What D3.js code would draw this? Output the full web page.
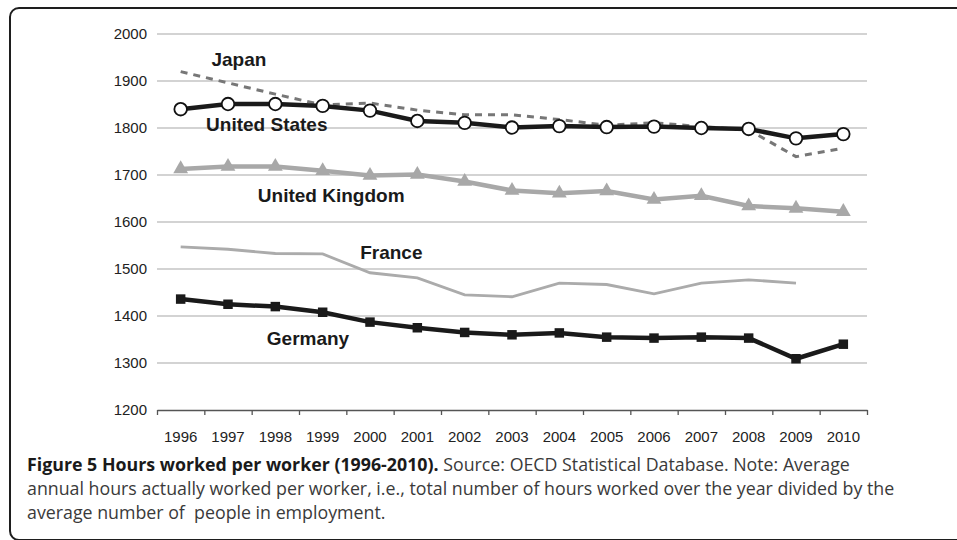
<!DOCTYPE html>
<html>
<head>
<meta charset="utf-8">
<script src="https://cdn.jsdelivr.net/npm/d3@7"></script>
<style>
  body { margin: 0; background: #fff; }
  svg { display: block; }
  .sans { font-family: "Liberation Sans", Arial, Helvetica, sans-serif; }
  .caption { font-family: "Open Sans", sans-serif; }
</style>
</head>
<body>
<svg id="chart"></svg>
<script>
// values (annual hours per worker)
const years = ['1996', '1997', '1998', '1999', '2000', '2001', '2002', '2003',
               '2004', '2005', '2006', '2007', '2008', '2009', '2010'];
const usHours      = [1840, 1851, 1851, 1847, 1837, 1815, 1811, 1801, 1804, 1802, 1803, 1800, 1798, 1778, 1787];
const japanHours   = [1920, 1896, 1872, 1849, 1853, 1838, 1828, 1828, 1818, 1806, 1811, 1803, 1796, 1739, 1757];
const ukHours      = [1713, 1718, 1718, 1709, 1699, 1701, 1686, 1667, 1661, 1666, 1648, 1656, 1634, 1629, 1622];
const franceHours  = [1547, 1542, 1533, 1532, 1492, 1481, 1445, 1441, 1470, 1467, 1447, 1470, 1477, 1470, null];
const germanyHours = [1436, 1425, 1420, 1408, 1387, 1375, 1365, 1360, 1364, 1355, 1353, 1355, 1353, 1309, 1340];
const yTicks = [1200, 1300, 1400, 1500, 1600, 1700, 1800, 1900, 2000];

// series labels: position given as (year index, hours)
const seriesLabels = [
    { text: 'Japan',          idx: 1.23, hours: 1947 },
    { text: 'United States',  idx: 1.82, hours: 1808 },
    { text: 'United Kingdom', idx: 3.18, hours: 1657 },
    { text: 'France',         idx: 4.45, hours: 1536 },
    { text: 'Germany',        idx: 2.69, hours: 1353 }
];

const width = 957, height = 540;
const margin = { top: 34, right: 90, bottom: 130, left: 157 };
const innerW = width - margin.left - margin.right;
const innerH = height - margin.top - margin.bottom;

const svg = d3.select('#chart')
    .attr('width', width)
    .attr('height', height);

// outer frame (rounded box, open to the right)
svg.append('rect')
    .attr('x', 10).attr('y', 8)
    .attr('width', 980).attr('height', 532)
    .attr('rx', 9)
    .attr('fill', 'none')
    .attr('stroke', '#1e1e1e')
    .attr('stroke-width', 2);

const chart = svg.append('g')
    .attr('transform', `translate(${margin.left}, ${margin.top})`);

const xscale = d3.scaleBand().domain(years).range([0, innerW]).padding(0);
const xIndex = d3.scaleLinear().domain([0, years.length]).range([0, innerW]);
const yscale = d3.scaleLinear().domain([1200, 2000]).range([innerH, 0]);

const cx = (d, i) => xscale(years[i]) + xscale.bandwidth() / 2;

// gridlines
chart.append('g')
    .selectAll('line')
    .data(yTicks.filter(t => t > 1200))
    .join('line')
    .attr('x1', 0).attr('x2', innerW)
    .attr('y1', d => yscale(d)).attr('y2', d => yscale(d))
    .attr('stroke', '#c4c4c4')
    .attr('stroke-width', 1.5);

// y axis labels only
const yaxis = d3.axisLeft(yscale).tickValues(yTicks).tickFormat(d3.format('d'))
    .tickSize(0).tickPadding(10);
chart.append('g')
    .call(yaxis)
    .attr('font-family', null)
    .attr('font-size', null)
    .attr('class', 'sans')
    .call(g => g.select('.domain').remove())
    .call(g => g.selectAll('text')
        .style('font-size', '15px')
        .attr('fill', '#222'));

// x axis: line with ticks at band edges
const xtickAxis = d3.axisBottom(xIndex)
    .tickValues(d3.range(years.length + 1))
    .tickFormat('')
    .tickSize(5)
    .tickSizeOuter(0);
chart.append('g')
    .attr('transform', `translate(0, ${innerH})`)
    .call(xtickAxis)
    .call(g => g.selectAll('line, path').attr('stroke', '#555').attr('stroke-width', 1.3));

// x labels at band centres
const xaxis = d3.axisBottom(xscale).tickSize(0).tickPadding(21);
chart.append('g')
    .attr('transform', `translate(0, ${innerH})`)
    .call(xaxis)
    .attr('font-family', null)
    .attr('font-size', null)
    .attr('class', 'sans')
    .call(g => g.select('.domain').remove())
    .call(g => g.selectAll('text')
        .style('font-size', '15px')
        .attr('fill', '#222'));

const line = d3.line()
    .defined(d => d != null)
    .x(cx)
    .y(d => yscale(d));

// France
chart.append('path')
    .datum(franceHours)
    .attr('d', line)
    .attr('fill', 'none')
    .attr('stroke', '#ababab')
    .attr('stroke-width', 2.8);

// Germany
chart.append('path')
    .datum(germanyHours)
    .attr('d', line)
    .attr('fill', 'none')
    .attr('stroke', '#1a1a1a')
    .attr('stroke-width', 4.5);
chart.append('g')
    .selectAll('path')
    .data(germanyHours)
    .join('path')
    .attr('transform', (d, i) => `translate(${cx(d, i)}, ${yscale(d)})`)
    .attr('d', d3.symbol(d3.symbolSquare, 90))
    .attr('fill', '#1a1a1a');

// United Kingdom
chart.append('path')
    .datum(ukHours)
    .attr('d', line)
    .attr('fill', 'none')
    .attr('stroke', '#a8a8a8')
    .attr('stroke-width', 4.5);
chart.append('g')
    .selectAll('path')
    .data(ukHours)
    .join('path')
    .attr('transform', (d, i) => `translate(${cx(d, i)}, ${yscale(d)})`)
    .attr('d', d3.symbol(d3.symbolTriangle, 95))
    .attr('fill', '#a8a8a8');

// Japan
chart.append('path')
    .datum(japanHours)
    .attr('d', line)
    .attr('fill', 'none')
    .attr('stroke', '#777')
    .attr('stroke-width', 3)
    .attr('stroke-dasharray', '7,6');

// United States
chart.append('path')
    .datum(usHours)
    .attr('d', line)
    .attr('fill', 'none')
    .attr('stroke', '#1a1a1a')
    .attr('stroke-width', 4.5);
chart.append('g')
    .selectAll('circle')
    .data(usHours)
    .join('circle')
    .attr('cx', cx)
    .attr('cy', d => yscale(d))
    .attr('r', 6.3)
    .attr('fill', '#fff')
    .attr('stroke', '#111')
    .attr('stroke-width', 1.8);

// series names
chart.append('g')
    .attr('class', 'sans')
    .selectAll('text')
    .data(seriesLabels)
    .join('text')
    .attr('x', d => xIndex(d.idx + 0.5))
    .attr('y', d => yscale(d.hours))
    .attr('dy', '0.36em')
    .attr('text-anchor', 'middle')
    .style('font-weight', 'bold')
    .style('font-size', '19px')
    .attr('fill', '#1a1a1a')
    .text(d => d.text);

// caption
const caption = svg.append('g')
    .attr('class', 'caption')
    .style('font-size', '17.8px')
    .attr('fill', '#3a3a3a');

const line1 = caption.append('text').attr('x', 27).attr('y', 471);
line1.append('tspan')
    .style('font-weight', 'bold')
    .attr('fill', '#1a1a1a')
    .text('Figure 5 Hours worked per worker (1996-2010).');
line1.append('tspan')
    .text(' Source: OECD Statistical Database. Note: Average');

caption.append('text').attr('x', 27).attr('y', 495)
    .text('annual hours actually worked per worker, i.e., total number of hours worked over the year divided by the');
caption.append('text').attr('x', 27).attr('y', 519)
    .text('average number of\u00A0 people in employment.');
</script>
</body>
</html>
